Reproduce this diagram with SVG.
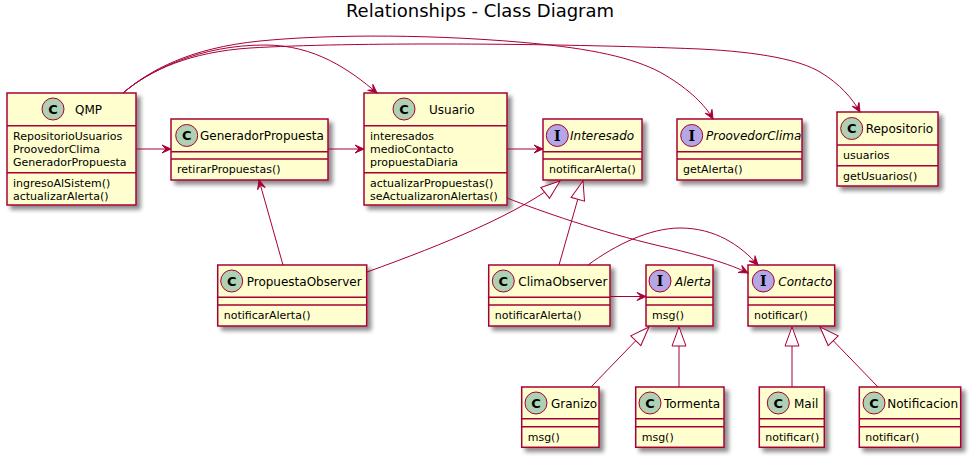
<svg xmlns="http://www.w3.org/2000/svg" width="978" height="465" viewBox="0 0 978 465">
<defs>
<filter id="sh" x="-10%" y="-10%" width="130%" height="140%">
<feGaussianBlur in="SourceAlpha" stdDeviation="2" result="b"/>
<feOffset in="b" dx="4" dy="4" result="o"/>
<feComponentTransfer in="o" result="g"><feFuncA type="linear" slope="0.45"/></feComponentTransfer>
<feFlood flood-color="#000000" result="c"/>
<feComposite in="c" in2="g" operator="in" result="s"/>
<feMerge><feMergeNode in="s"/><feMergeNode in="SourceGraphic"/></feMerge>
</filter>
<marker id="arr" markerUnits="userSpaceOnUse" markerWidth="12" markerHeight="12" viewBox="-10 -6 12 12" refX="0" refY="0" orient="auto">
<path d="M0,0 L-9,-4 L-5,0 L-9,4 Z" fill="#A80036" stroke="#A80036" stroke-width="1"/>
</marker>
<marker id="ext" markerUnits="userSpaceOnUse" markerWidth="24" markerHeight="18" viewBox="-21 -9 24 18" refX="0" refY="0" orient="auto">
<path d="M0,0 L-19,-7 L-19,7 Z" fill="#FFFFFF" stroke="#A80036" stroke-width="1"/>
</marker>
</defs>
<style>
.box{fill:#FEFECE;stroke:#A80036;stroke-width:1.5}
.sep{stroke:#A80036;stroke-width:1.5}
.cc{fill:#ADD1B2;stroke:#A80036;stroke-width:1}
.ci{fill:#B4A7E5;stroke:#A80036;stroke-width:1}
.cl{font-family:"DejaVu Sans","Liberation Sans",sans-serif;font-size:13px;font-weight:bold;fill:#000;text-anchor:middle}
.il{font-family:"DejaVu Serif","Liberation Serif",serif;font-size:14px;font-weight:bold;fill:#000;text-anchor:middle}
.nm{font-family:"DejaVu Sans","Liberation Sans",sans-serif;font-size:12px;fill:#000}
.it{font-style:italic}
.mb{font-family:"DejaVu Sans","Liberation Sans",sans-serif;font-size:11px;fill:#000}
.ttl{font-family:"DejaVu Sans","Liberation Sans",sans-serif;font-size:18px;fill:#000;text-anchor:middle}
.e{fill:none;stroke:#A80036;stroke-width:1}
</style>
<rect width="978" height="465" fill="#FFFFFF"/>
<text class="ttl" x="480" y="17.3">Relationships - Class Diagram</text>

<g id="QMP">
<rect class="box" x="7" y="93" width="129" height="112" filter="url(#sh)"/>
<line class="sep" x1="7" y1="125.7" x2="136" y2="125.7"/>
<line class="sep" x1="7" y1="172.7" x2="136" y2="172.7"/>
<circle class="cc" cx="53" cy="109" r="11"/>
<text class="cl" x="53" y="113.7">C</text>
<text class="nm" x="75" y="113.5">QMP</text>
<text class="mb" x="13" y="140.3">RepositorioUsuarios</text>
<text class="mb" x="13" y="153.3">ProovedorClima</text>
<text class="mb" x="13" y="166.3">GeneradorPropuesta</text>
<text class="mb" x="13" y="187">ingresoAlSistem()</text>
<text class="mb" x="13" y="200">actualizarAlerta()</text>
</g>

<g id="GeneradorPropuesta">
<rect class="box" x="171" y="119" width="157" height="61" filter="url(#sh)"/>
<line class="sep" x1="171" y1="151.7" x2="328" y2="151.7"/>
<line class="sep" x1="171" y1="159" x2="328" y2="159"/>
<circle class="cc" cx="186.7" cy="135.5" r="11"/>
<text class="cl" x="186.7" y="140.2">C</text>
<text class="nm" x="200" y="140">GeneradorPropuesta</text>
<text class="mb" x="177" y="173.3">retirarPropuestas()</text>
</g>

<g id="Usuario">
<rect class="box" x="364" y="93" width="143" height="112" filter="url(#sh)"/>
<line class="sep" x1="364" y1="125.7" x2="507" y2="125.7"/>
<line class="sep" x1="364" y1="172.7" x2="507" y2="172.7"/>
<circle class="cc" cx="404" cy="109" r="11"/>
<text class="cl" x="404" y="113.7">C</text>
<text class="nm" x="429" y="113.5">Usuario</text>
<text class="mb" x="370" y="140.3">interesados</text>
<text class="mb" x="370" y="153.3">medioContacto</text>
<text class="mb" x="370" y="166.3">propuestaDiaria</text>
<text class="mb" x="370" y="187">actualizarPropuestas()</text>
<text class="mb" x="370" y="200">seActualizaronAlertas()</text>
</g>

<g id="Interesado">
<rect class="box" x="543" y="119" width="99" height="61" filter="url(#sh)"/>
<line class="sep" x1="543" y1="151.7" x2="642" y2="151.7"/>
<line class="sep" x1="543" y1="159" x2="642" y2="159"/>
<circle class="ci" cx="557.3" cy="135.5" r="11"/>
<text class="il" x="557.3" y="140.5">I</text>
<text class="nm it" x="570" y="140">Interesado</text>
<text class="mb" x="549" y="173.3">notificarAlerta()</text>
</g>

<g id="ProovedorClima">
<rect class="box" x="677" y="119" width="125" height="61" filter="url(#sh)"/>
<line class="sep" x1="677" y1="151.7" x2="802" y2="151.7"/>
<line class="sep" x1="677" y1="159" x2="802" y2="159"/>
<circle class="ci" cx="691.7" cy="135.5" r="11"/>
<text class="il" x="691.7" y="140.5">I</text>
<text class="nm it" x="706" y="140">ProovedorClima</text>
<text class="mb" x="683" y="173.3">getAlerta()</text>
</g>

<g id="Repositorio">
<rect class="box" x="837" y="112" width="101" height="74" filter="url(#sh)"/>
<line class="sep" x1="837" y1="145" x2="938" y2="145"/>
<line class="sep" x1="837" y1="165.7" x2="938" y2="165.7"/>
<circle class="cc" cx="851.7" cy="128.5" r="11"/>
<text class="cl" x="851.7" y="133.2">C</text>
<text class="nm" x="865.7" y="133">Repositorio</text>
<text class="mb" x="843" y="159.3">usuarios</text>
<text class="mb" x="843" y="180">getUsuarios()</text>
</g>

<g id="PropuestaObserver">
<rect class="box" x="217.7" y="265" width="149" height="61" filter="url(#sh)"/>
<line class="sep" x1="217.7" y1="297.3" x2="366.7" y2="297.3"/>
<line class="sep" x1="217.7" y1="305" x2="366.7" y2="305"/>
<circle class="cc" cx="231.7" cy="281" r="11"/>
<text class="cl" x="231.7" y="285.7">C</text>
<text class="nm" x="246.7" y="285.5">PropuestaObserver</text>
<text class="mb" x="223.7" y="319.3">notificarAlerta()</text>
</g>

<g id="ClimaObserver">
<rect class="box" x="488.7" y="265" width="121.3" height="61" filter="url(#sh)"/>
<line class="sep" x1="488.7" y1="297.3" x2="610" y2="297.3"/>
<line class="sep" x1="488.7" y1="305" x2="610" y2="305"/>
<circle class="cc" cx="503.3" cy="281" r="11"/>
<text class="cl" x="503.3" y="285.7">C</text>
<text class="nm" x="518.3" y="285.5">ClimaObserver</text>
<text class="mb" x="494.7" y="319.3">notificarAlerta()</text>
</g>

<g id="Alerta">
<rect class="box" x="646" y="265" width="67" height="61" filter="url(#sh)"/>
<line class="sep" x1="646" y1="297.3" x2="713" y2="297.3"/>
<line class="sep" x1="646" y1="305" x2="713" y2="305"/>
<circle class="ci" cx="660" cy="281" r="11"/>
<text class="il" x="660" y="286">I</text>
<text class="nm it" x="675" y="285.5">Alerta</text>
<text class="mb" x="652" y="319.3">msg()</text>
</g>

<g id="Contacto">
<rect class="box" x="748" y="265" width="86.7" height="61" filter="url(#sh)"/>
<line class="sep" x1="748" y1="297.3" x2="834.7" y2="297.3"/>
<line class="sep" x1="748" y1="305" x2="834.7" y2="305"/>
<circle class="ci" cx="763.3" cy="281" r="11"/>
<text class="il" x="763.3" y="286">I</text>
<text class="nm it" x="778.3" y="285.5">Contacto</text>
<text class="mb" x="754" y="319.3">notificar()</text>
</g>

<g id="Granizo">
<rect class="box" x="521.7" y="387" width="77.3" height="60.3" filter="url(#sh)"/>
<line class="sep" x1="521.7" y1="418.7" x2="599" y2="418.7"/>
<line class="sep" x1="521.7" y1="426.7" x2="599" y2="426.7"/>
<circle class="cc" cx="536" cy="403" r="11"/>
<text class="cl" x="536" y="407.7">C</text>
<text class="nm" x="551" y="407.5">Granizo</text>
<text class="mb" x="527.7" y="441">msg()</text>
</g>

<g id="Tormenta">
<rect class="box" x="635.7" y="387" width="88.3" height="60.3" filter="url(#sh)"/>
<line class="sep" x1="635.7" y1="418.7" x2="724" y2="418.7"/>
<line class="sep" x1="635.7" y1="426.7" x2="724" y2="426.7"/>
<circle class="cc" cx="650" cy="403" r="11"/>
<text class="cl" x="650" y="407.7">C</text>
<text class="nm" x="664" y="407.5">Tormenta</text>
<text class="mb" x="641.7" y="441">msg()</text>
</g>

<g id="Mail">
<rect class="box" x="759.3" y="387" width="65" height="60.3" filter="url(#sh)"/>
<line class="sep" x1="759.3" y1="418.7" x2="824.3" y2="418.7"/>
<line class="sep" x1="759.3" y1="426.7" x2="824.3" y2="426.7"/>
<circle class="cc" cx="778.3" cy="403" r="11"/>
<text class="cl" x="778.3" y="407.7">C</text>
<text class="nm" x="794" y="407.5">Mail</text>
<text class="mb" x="765.3" y="441">notificar()</text>
</g>

<g id="Notificacion">
<rect class="box" x="859.3" y="387" width="101.4" height="60.3" filter="url(#sh)"/>
<line class="sep" x1="859.3" y1="418.7" x2="960.7" y2="418.7"/>
<line class="sep" x1="859.3" y1="426.7" x2="960.7" y2="426.7"/>
<circle class="cc" cx="874" cy="403" r="11"/>
<text class="cl" x="874" y="407.7">C</text>
<text class="nm" x="887.3" y="407.5">Notificacion</text>
<text class="mb" x="865.3" y="441">notificar()</text>
</g>

<g id="connectors">
<path class="e" d="M136,149 L171,149" marker-end="url(#arr)"/>
<path class="e" d="M328,149 L364,149" marker-end="url(#arr)"/>
<path class="e" d="M507,149 L543,149" marker-end="url(#arr)"/>
<path class="e" d="M610,296.5 L646,296.5" marker-end="url(#arr)"/>
<path class="e" d="M283,265 L259,180" marker-end="url(#arr)"/>
<path class="e" d="M123,93 C150,70 200,45 265,45 C315,45 350,70 377,93" marker-end="url(#arr)"/>
<path class="e" d="M123,93 C150,70 190,48 260,41 C330,34 440,34 540,44 C600,50 640,60 665,75 C690,90 705,105 713,119" marker-end="url(#arr)"/>
<path class="e" d="M123,93 C150,70 190,52 250,48 C350,42 550,43 700,49 C760,52 800,60 820,72 C840,84 852,98 860,112" marker-end="url(#arr)"/>
<path class="e" d="M507,198 C540,211 600,232 660,246 C700,255 730,264 748,273" marker-end="url(#arr)"/>
<path class="e" d="M588,265 C615,245 650,228 680,228 C715,228 740,245 758,265" marker-end="url(#arr)"/>
<path class="e" d="M367,272 C445,244 520,213 560,181" marker-end="url(#ext)"/>
<path class="e" d="M559,265 L583,181" marker-end="url(#ext)"/>
<path class="e" d="M591,387 L649,327" marker-end="url(#ext)"/>
<path class="e" d="M679,387 L679,327" marker-end="url(#ext)"/>
<path class="e" d="M792,387 L792,327" marker-end="url(#ext)"/>
<path class="e" d="M878,387 L820,327" marker-end="url(#ext)"/>
</g>
</svg>
